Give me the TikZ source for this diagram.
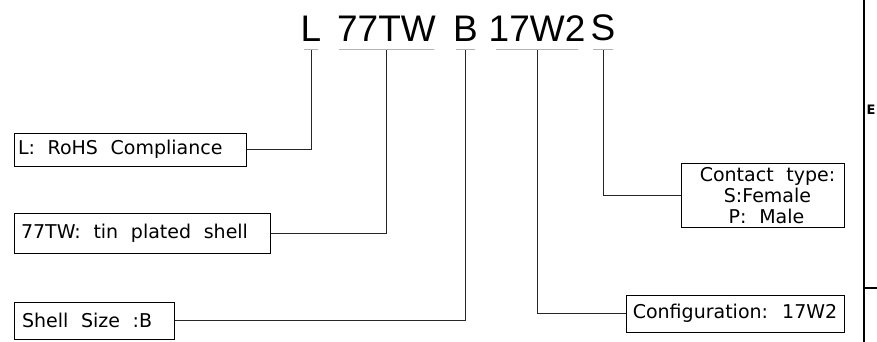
\documentclass[tikz,border=0pt]{standalone}
\usepackage{fontspec}
\setmainfont{DejaVu Sans}
\newfontfamily\codefont{Liberation Sans}
\usetikzlibrary{positioning}
\tikzstyle{leader} = [line width=1pt, black!85]
\tikzstyle{codebar} = [rectangle, draw=black!85, line width=1pt, minimum height=0pt, inner sep=0pt]
\tikzstyle{codetext} = [inner sep=0pt, label distance=8pt, font=\codefont\fontsize{37}{40}\selectfont]
\tikzstyle{legend} = [rectangle, draw=black, line width=1pt, inner xsep=4pt, align=left, font=\fontsize{19}{21}\selectfont]

\begin{document}
\begin{tikzpicture}[x=1pt, y=-1pt]
        \useasboundingbox (0,0) rectangle (877,342);
        % part number, one underline per field
        \node (codeL) [codebar, minimum width=14pt, label={[codetext]above:L}] at (311,50) {};
        \node (codeTW) [codebar, minimum width=95pt, label={[codetext]above:77TW}] at (386.5,50) {};
        \node (codeB) [codebar, minimum width=19pt, label={[codetext]above:B}] at (465.5,50) {};
        \node (codeW) [codebar, minimum width=82pt, label={[codetext]above:17W2}] at (537,50) {};
        \node (codeS) [codebar, minimum width=20pt, label={[codetext]above:S}] at (603,50) {};

        \node (rohs) [legend, text width=224pt, minimum height=33pt] at (130,149.5) {L:~ RoHS~ Compliance};
        \node (plating) [legend, text width=248pt, minimum height=40pt, below=46pt of rohs.south west, anchor=north west] {\hspace*{3pt}77TW:~ tin~ plated~ shell};
        \node (size) [legend, text width=152pt, minimum height=37pt, below=48pt of plating.south west, anchor=north west] {\hspace*{4pt}Shell~ Size~ :B};
        \node (contact) [legend, align=center, text width=155pt, minimum height=63pt] at (762.5,195.5) {\hspace*{10pt}Contact~ type:\\ \hspace*{10pt}S:Female\\ \hspace*{8pt}P:~ Male};
        \node (config) [legend, align=center, minimum width=218pt, minimum height=37pt, below=67pt of contact.south east, anchor=north east] {Configuration:~ 17W2};

        \draw [leader] (codeL.south) |- (rohs.east);
        \draw [leader] (codeTW.south) |- (plating.east);
        \draw [leader] (codeB.south) |- (size.east);
        \draw [leader] (codeW.south) |- (config.west);
        \draw [leader] (codeS.south) |- (contact.west);

        % title block edge on the right
        \draw [line width=2pt] (864,0) -- (864,342);
        \draw [line width=2pt] (864,288) -- (877,288);
        \node (edge) [anchor=base west, inner sep=0pt, font=\bfseries\fontsize{13}{13}\selectfont] at (866.5,114) {E};
\end{tikzpicture}
\end{document}
